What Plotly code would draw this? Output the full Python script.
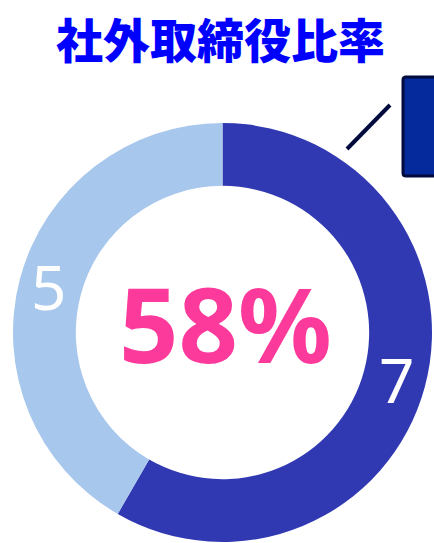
import math
import plotly.graph_objects as go

categories = ["社外取締役", "社内取締役"]
values = [7, 5]
colors = ["#3039b2", "#a7c7ed"]
title_text = "社外取締役比率"
center_text = "58%"

W, H = 434, 543
HOLE = 0.70
dom_x = [13 / W, 432 / W]
dom_y = [1 / H, 420 / H]

fig = go.Figure()
fig.add_trace(go.Pie(
    labels=categories,
    values=values,
    hole=HOLE,
    sort=False,
    direction="clockwise",
    rotation=0,
    marker=dict(colors=colors, line=dict(width=0)),
    textinfo="none",
    showlegend=False,
    hoverinfo="skip",
    domain=dict(x=dom_x, y=dom_y),
))

# value labels placed at the middle of each ring segment (derived from the data)
cx = (dom_x[0] + dom_x[1]) / 2 * W
cy = (dom_y[0] + dom_y[1]) / 2 * H
R = min((dom_x[1] - dom_x[0]) * W, (dom_y[1] - dom_y[0]) * H) / 2
r_mid = R * (1 + HOLE) / 2 + 2
total = sum(values)
cum = 0
for v in values:
    mid = (cum + v / 2) / total * 2 * math.pi
    cum += v
    px = cx + r_mid * math.sin(mid)
    py = cy + r_mid * math.cos(mid)
    fig.add_annotation(
        text=str(v), x=px / W, y=py / H, xref="paper", yref="paper",
        showarrow=False, xanchor="center", yanchor="middle",
        font=dict(family="Noto Sans", size=62, color="white", weight=400),
    )

fig.add_annotation(
    text=center_text, x=226 / W, y=(H - 322) / H, xref="paper", yref="paper",
    showarrow=False, xanchor="center", yanchor="middle",
    font=dict(family="Noto Sans", size=104, color="#fc3a9c", weight=700),
)

fig.add_annotation(
    text=title_text, x=221 / W, y=(H - 37) / H, xref="paper", yref="paper",
    showarrow=False, xanchor="center", yanchor="middle",
    font=dict(family="Noto Sans CJK JP", size=47, color="#0000ff", weight=900),
)

# callout box (cut off at right edge) and leader line
fig.add_shape(type="path", xref="paper", yref="paper",
              path=f"M {460/W} {(H-77)/H} L {406/W} {(H-77)/H} Q {403/W} {(H-77)/H} {403/W} {(H-80)/H} "
                   f"L {403/W} {(H-173)/H} Q {403/W} {(H-176)/H} {406/W} {(H-176)/H} L {460/W} {(H-176)/H} Z",
              fillcolor="#052a9c", line=dict(color="#020b3d", width=3))
fig.add_shape(type="line", xref="paper", yref="paper",
              x0=347 / W, y0=(H - 149) / H, x1=390 / W, y1=(H - 105) / H,
              line=dict(color="#020b3d", width=4))

fig.update_layout(
    width=W, height=H,
    margin=dict(l=0, r=0, t=0, b=0),
    paper_bgcolor="white", plot_bgcolor="white",
)
fig.write_html("out.html")
